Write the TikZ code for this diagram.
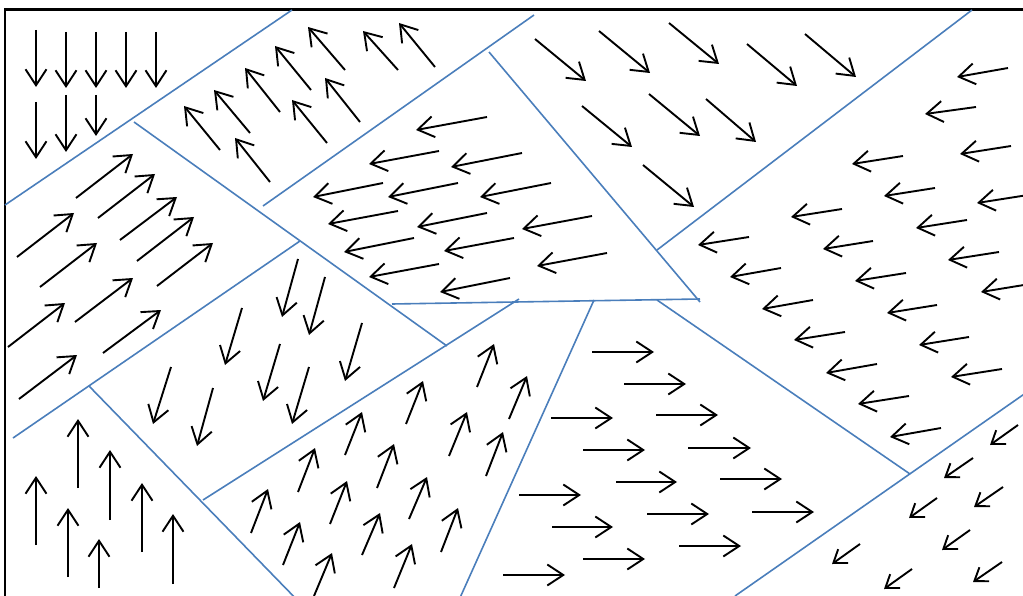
\documentclass[tikz,border=0pt]{standalone}
\usetikzlibrary{arrows.meta}
\definecolor{lineblue}{RGB}{74,126,187}
\begin{document}
\begin{tikzpicture}[x=1pt,y=-1pt,
  vec/.style={line width=1.9pt,line cap=butt,-{Straight Barb[length=16pt,width=21pt]}},
  smallvec/.style={line width=1.9pt,line cap=butt,-{Straight Barb[length=12pt,width=17pt]}},
  border/.style={line width=2.2pt},
  divider/.style={line width=1.6pt,draw=lineblue}]
\useasboundingbox (0,0) rectangle (1023,596);
\clip (0,0) rectangle (1023,596);
\draw[border] (5,620) -- (5,9.5) -- (1040,9.5);
% dividers
\draw[divider] (5,205) -- (292,10);
\draw[divider] (134,122) -- (447,346);
\draw[divider] (263,206) -- (534,15);
\draw[divider] (489,52) -- (700,302);
\draw[divider] (657,250) -- (972,10);
\draw[divider] (392,304) -- (700,299);
\draw[divider] (13,438) -- (300,241);
\draw[divider] (203,500) -- (519,299);
\draw[divider] (89,386) -- (303,606);
\draw[divider] (594,300) -- (459,600);
\draw[divider] (657,300) -- (910,474);
\draw[divider] (735,596) -- (1030,390);
% region A: down
\foreach \a/\b/\c/\d in {36/30/36/87, 66/32/66/88, 96/32/96/88, 126/32/126/88, 156/32/156/88,
  36/102/36/159, 66/95/66/152, 96/95/96/136}
  \draw[vec] (\a,\b) -- (\c,\d);
% region B: up-left
\foreach \a/\b/\c/\d in {220/150/184/106, 250/133/214/90, 280/112/245/68, 311/90/275/46, 345/70/308/27,
  398/70/363/31, 435/67/399/23, 270/182/235/138, 327/143/292/100, 360/122/325/78}
  \draw[vec] (\a,\b) -- (\c,\d);
% region C: up-right
\foreach \a/\b/\c/\d in {17/257/74/213, 40/287/97/243, 76/198/133/154, 98/218/155/174, 120/240/177/197,
  137/261/194/217, 157/286/213/243, 75/322/133/278, 8/347/65/303, 103/353/161/310, 19/399/77/355}
  \draw[vec] (\a,\b) -- (\c,\d);
% region D: left
\foreach \a/\b/\c/\d in {487/117/416/130, 439/151/369/164, 522/153/451/167, 383/183/313/197,
  458/183/388/197, 551/183/480/197, 398/211/328/224, 487/213/417/227, 592/216/522/229,
  414/238/344/252, 514/238/444/251, 607/253/537/266, 439/264/369/277, 510/278/440/292}
  \draw[vec] (\a,\b) -- (\c,\d);
% region E: down-right
\foreach \a/\b/\c/\d in {535/39/586/81, 599/31/650/73, 669/23/719/64, 747/44/797/86, 805/34/856/77,
  582/106/632/147, 649/94/700/136, 706/99/756/142, 643/165/694/207}
  \draw[vec] (\a,\b) -- (\c,\d);
% region F: left (right side)
\foreach \a/\b/\c/\d in {1008/68/957/77, 976/107/925/114, 1011/146/960/154, 903/156/852/164,
  935/188/884/196, 1028/195/977/203, 842/209/791/217, 967/220/916/228, 749/237/698/245,
  873/241/823/249, 999/252/948/260, 781/268/730/277, 906/273/855/281, 1030/284/981/292,
  813/300/762/309, 937/305/887/313, 845/332/794/340, 969/337/919/345, 877/364/826/373,
  1002/369/951/377, 909/396/858/404, 941/428/890/437}
  \draw[vec] (\a,\b) -- (\c,\d);
% region G: down-left steep
\foreach \a/\b/\c/\d in {298/259/282/317, 325/277/309/335, 242/308/225/365, 280/344/263/401,
  362/323/345/381, 171/367/153/424, 213/388/197/446, 309/367/292/424}
  \draw[vec] (\a,\b) -- (\c,\d);
% region H: up
\foreach \a/\b/\c/\d in {36/545/36/476, 78/488/78/419, 68/577/68/508, 110/520/110/450,
  99/588/99/539, 142/552/142/483, 173/584/173/514}
  \draw[vec] (\a,\b) -- (\c,\d);
% region I: up-right steep
\foreach \a/\b/\c/\d in {251/533/268/489, 298/492/315/448, 283/565/300/522, 330/524/347/481,
  314/596/332/553, 345/455/362/412, 377/488/394/444, 362/555/380/513, 409/519/427/477,
  394/588/412/544, 406/424/423/381, 441/552/458/508, 449/456/467/412, 486/476/503/432,
  477/387/494/344, 509/419/527/376}
  \draw[vec] (\a,\b) -- (\c,\d);
% region J: right
\foreach \a/\b/\c/\d in {592/352/654/352, 624/384/686/384, 551/418/613/418, 656/415/718/415,
  583/450/645/450, 688/448/751/448, 616/482/677/482, 720/479/782/479, 519/495/581/495,
  647/514/709/514, 752/512/814/512, 552/527/613/527, 679/546/741/546, 583/559/645/559,
  503/575/565/575}
  \draw[vec] (\a,\b) -- (\c,\d);
% region K: down-left
\foreach \a/\b/\c/\d in {1018/425/990/445, 973/458/944/478, 1003/487/974/507, 937/498/909/518,
  970/530/942/550, 860/544/832/564, 1002/562/973/582, 912/569/884/589}
  \draw[smallvec] (\a,\b) -- (\c,\d);
\end{tikzpicture}
\end{document}
